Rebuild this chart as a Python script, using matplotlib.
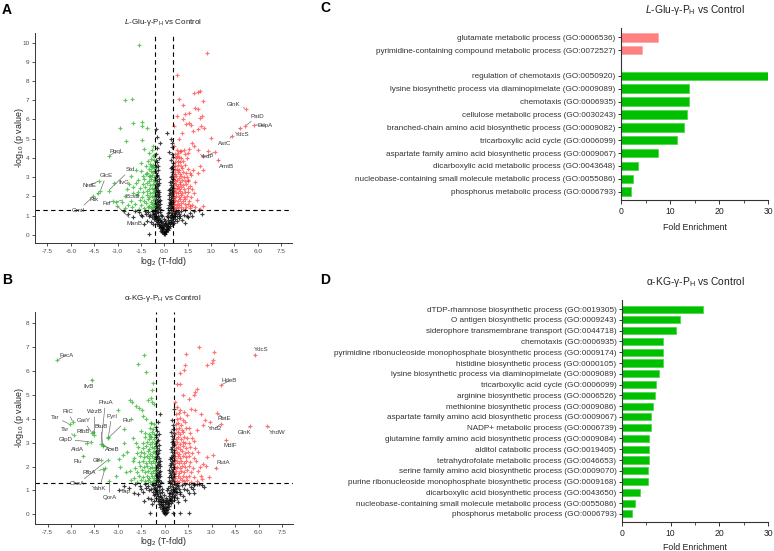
import matplotlib
matplotlib.use('Agg')
import matplotlib.pyplot as plt
import numpy as np

plt.rcParams['font.family'] = ['Liberation Sans', 'DejaVu Sans']
plt.rcParams['mathtext.fontset'] = 'custom'
plt.rcParams['mathtext.rm'] = 'Liberation Sans'
plt.rcParams['mathtext.it'] = 'Liberation Sans:italic'
plt.rcParams['mathtext.bf'] = 'Liberation Sans:bold'

# ---------------- Volcano A data (log2 fold, -log10 p) ----------------
A_NS = [(0.00,0.02),(-0.05,0.08),(0.06,0.06),(-0.12,0.15),(0.13,0.12),(0.02,0.18),(-0.2,0.22),(0.21,0.25),(-0.08,0.28),(0.09,0.3),
(-0.28,0.33),(0.3,0.36),(-0.17,0.4),(0.18,0.42),(-0.36,0.45),(0.38,0.47),(0.0,0.44),(-0.26,0.52),(0.27,0.55),(-0.45,0.55),
(0.47,0.58),(-0.1,0.6),(0.11,0.62),(-0.38,0.66),(0.4,0.68),(-0.55,0.7),(0.56,0.72),(-0.22,0.73),(0.24,0.76),(-0.66,0.8),
(0.67,0.82),(-0.47,0.84),(0.49,0.86),(-0.32,0.88),(0.34,0.9),(-0.78,0.92),(0.8,0.95),(-0.58,0.97),(0.6,0.99),(-0.4,1.0),
(0.42,1.03),(-0.9,1.05),(0.93,1.07),(-0.7,1.1),(0.72,1.12),(-0.5,1.13),(0.52,1.15),(-0.3,1.17),(0.32,1.19),(-1.05,1.2),
(1.08,1.21),(-0.62,1.23),(0.64,1.25),(-0.44,1.27),(0.46,1.28),(-0.82,1.26),(0.85,1.18),(-1.2,1.1),(1.25,1.05),(-1.4,0.95),
(1.45,1.0),(-1.6,1.2),(1.65,1.15),(-1.9,1.25),(1.9,1.22),(-2.3,1.1),(2.2,1.28),(-1.1,0.7),(1.15,0.75),(-1.3,0.55),(1.3,0.6),
(-0.97,0.04),(-0.15,0.95),(0.15,1.0),(-0.05,0.8),(0.05,0.7),
(-0.1,0.35),(0.1,0.5),(-0.2,0.65),(0.25,0.9),(-0.3,0.75),(0.35,0.6),(-0.4,1.2),(0.5,1.05),(-0.55,1.0),(0.7,0.95),
(-0.6,0.85),(0.62,0.6),(-0.7,0.55),(0.8,0.7),(-0.85,0.65),(0.95,0.85),(-1.0,1.0),(1.0,0.95),
(-0.04,0.12),(0.08,0.2),(-0.14,0.26),(0.16,0.32),(-0.24,0.42),(0.22,0.48),(-0.32,0.58),(0.31,0.64),(-0.42,0.76),(0.44,0.78),
(-0.5,0.92),(0.54,0.94),(-0.64,1.06),(0.66,1.08),(-0.74,1.22),(0.76,1.24),(-0.2,1.05),(0.22,1.12),(-0.12,0.5),(0.04,0.58),
(-1.25,1.25),(1.35,1.27),(-1.5,1.05),(1.55,0.9),(-2.0,0.9),(2.4,1.1),(-2.6,1.25),(1.8,1.0),
(-0.56,1.35),(-0.45,1.38),(-0.34,1.42),(-0.25,1.36),(0.26,1.4),(0.36,1.37),(0.47,1.43),(0.56,1.39),
(-0.52,1.52),(-0.41,1.57),(-0.3,1.6),(0.3,1.55),(0.41,1.58),(0.52,1.5),(-0.57,1.66),(0.57,1.68),
(-0.48,1.74),(-0.37,1.78),(0.35,1.72),(0.46,1.8),(-0.55,1.86),(0.55,1.9),(-0.43,1.95),(0.42,1.98),
(-0.32,2.02),(0.33,2.05),(-0.52,2.08),(0.52,2.1),(-0.46,2.2),(0.47,2.22),(-0.56,2.3),(0.57,2.28),
(-0.38,2.35),(0.39,2.38),(-0.5,2.45),(0.5,2.5),(-0.42,2.58),(0.44,2.6),(-0.56,2.66),(0.56,2.7),
(-0.47,2.78),(0.48,2.8),(-0.35,2.88),(0.53,2.92),(-0.53,2.98),(0.43,3.02),(-0.44,3.1),(0.55,3.15),
(-0.55,3.22),(0.47,3.28),(-0.4,3.35),(0.57,3.4),(-0.5,3.5),(0.5,3.55),(-0.57,3.65),(0.55,3.72),
(-0.45,3.8),(0.45,3.9),(-0.35,4.0),(0.56,4.05),(-0.52,4.2),(0.3,4.3),(-0.47,4.5),(0.5,4.55),
(-0.25,4.75),(0.52,4.8),(-0.44,5.1),(0.2,5.3),(-0.5,5.5),(0.4,5.0),
(-0.58,1.45),(-0.5,1.62),(-0.4,1.7),(-0.28,1.82),(0.28,1.85),(0.38,1.65),(0.5,1.75),(0.58,1.62),(-0.58,2.0),(-0.4,2.12),
(0.38,2.15),(0.58,2.0),(-0.33,2.25),(0.32,2.32),(-0.58,2.4),(0.58,2.45),(-0.48,2.52),(0.48,2.35),(-0.35,2.7),(0.38,2.75),
(-0.58,2.85),(0.58,2.88),(-0.48,3.05),(0.5,3.08),(-0.58,3.3),(0.42,3.45),(-0.38,3.6),(0.57,3.6),(-0.5,3.9),(0.48,4.2)]

A_DOWN = [(-1.65,9.88),(-2.5,7.0),(-2.08,7.08),(-2.01,5.79),(-1.41,5.88),(-1.09,5.58),(-2.48,4.9),(-1.44,4.95),(-1.42,5.68),
(-1.32,4.47),(-0.66,4.14),(-1.04,3.82),(-0.87,3.56),(-1.52,3.74),(-1.8,3.39),(-2.12,3.04),(-1.37,3.04),(-0.94,3.04),
(-2.86,5.57),(-0.75,4.6),
(-0.62,1.36),(-0.74,1.42),(-0.88,1.38),(-1.05,1.45),(-1.3,1.4),(-1.65,1.35),(-2.05,1.44),(-2.5,1.38),
(-0.66,1.55),(-0.8,1.6),(-0.97,1.52),(-1.18,1.63),(-1.48,1.57),(-1.88,1.62),(-2.35,1.55),
(-0.6,1.75),(-0.72,1.82),(-0.87,1.72),(-1.04,1.85),(-1.27,1.78),(-1.58,1.8),(-2.15,1.76),(-2.7,1.7),
(-0.65,1.95),(-0.79,2.02),(-0.95,1.98),(-1.14,2.06),(-1.42,1.95),(-1.78,2.05),(-2.55,2.0),
(-0.62,2.18),(-0.75,2.25),(-0.9,2.15),(-1.09,2.28),(-1.34,2.2),(-1.68,2.24),(-2.0,2.15),
(-0.66,2.4),(-0.8,2.45),(-0.98,2.36),(-1.22,2.48),(-1.58,2.42),(-1.98,2.5),(-2.4,2.38),
(-0.62,2.6),(-0.74,2.65),(-0.9,2.58),(-1.1,2.68),(-1.38,2.62),(-1.82,2.7),(-2.28,2.62),
(-0.68,2.82),(-0.83,2.88),(-1.0,2.8),(-1.28,2.92),(-1.66,2.85),
(-0.64,3.02),(-0.78,3.1),(-0.95,3.05),(-1.2,3.15),
(-0.7,3.25),(-0.88,3.3),(-1.1,3.22),(-1.5,3.3),
(-0.66,3.45),(-0.8,3.5),(-1.0,3.42),
(-0.72,3.65),(-0.92,3.7),(-1.2,3.6),
(-0.68,3.88),(-0.85,3.95),(-0.7,4.12),(-0.96,4.25),(-0.8,4.4)]

A_UP = [(2.75,9.44),(0.82,8.33),(0.97,7.08),(2.30,7.46),(2.15,7.43),(1.94,7.36),(1.18,6.73),(2.0,6.6),(2.15,6.52),(2.47,6.96),
(1.57,6.35),(1.33,6.26),(0.80,6.17),(2.28,6.09),(2.41,6.17),(0.65,5.65),(1.18,6.0),(1.40,5.74),(1.61,5.83),(1.72,5.69),
(2.37,5.65),(2.19,5.48),(2.54,5.57),(2.97,5.04),(1.83,5.39),(1.14,5.30),(0.97,4.96),(1.81,4.78),(1.89,4.61),(1.29,4.43),
(1.08,4.35),(0.65,4.61),(0.82,4.09),(1.51,4.26),(2.19,4.43),(2.47,4.09),(2.80,4.35),(2.32,3.57),(2.47,3.39),(2.15,3.22),
(1.83,3.39),(1.72,3.13),(1.5,2.87),(1.68,1.48),(2.5,1.5),
(0.62,1.36),(0.75,1.42),(0.9,1.38),(1.05,1.45),(1.2,1.35),(1.4,1.43),(1.65,1.38),(2.0,1.45),(2.3,1.36),
(0.65,1.56),(0.8,1.62),(0.95,1.55),(1.1,1.65),(1.3,1.58),(1.5,1.6),(1.8,1.55),
(0.6,1.76),(0.72,1.82),(0.88,1.74),(1.02,1.85),(1.18,1.78),(1.35,1.84),(1.6,1.76),(2.1,1.8),
(0.64,1.96),(0.78,2.02),(0.92,1.98),(1.08,2.05),(1.25,1.95),(1.45,2.04),(1.7,1.98),
(0.62,2.16),(0.74,2.24),(0.86,2.18),(1.0,2.26),(1.15,2.15),(1.32,2.22),(1.55,2.2),(1.9,2.16),
(0.66,2.38),(0.8,2.44),(0.95,2.36),(1.1,2.46),(1.28,2.4),(1.5,2.42),(1.75,2.38),
(0.63,2.58),(0.76,2.64),(0.9,2.56),(1.04,2.66),(1.2,2.6),(1.4,2.62),(1.62,2.56),
(0.68,2.78),(0.82,2.84),(0.98,2.76),(1.12,2.86),(1.3,2.8),(1.55,2.82),(2.0,2.75),
(0.64,2.98),(0.78,3.04),(0.94,2.96),(1.1,3.06),(1.25,3.0),(1.45,3.02),
(0.7,3.18),(0.85,3.24),(1.0,3.16),(1.18,3.26),(1.4,3.2),(1.65,3.22),
(0.66,3.38),(0.8,3.44),(0.96,3.36),(1.15,3.46),(1.5,3.4),
(0.72,3.58),(0.9,3.64),(1.05,3.56),(1.3,3.62),
(0.68,3.78),(0.85,3.84),(1.0,3.76),(1.22,3.86),
(0.75,4.0),(0.92,4.06),(1.1,3.98),(1.45,4.02),
(0.7,4.2),(0.88,4.26),(1.3,4.18),(0.8,4.42),(1.0,4.38),(1.6,4.45)]

# labelled proteins: name, x, y, label x, label y
A_LABELS = [("GlnK", 5.25, 6.56, 4.45, 6.8), ("PatD", 5.2, 5.65, 6.0, 6.18), ("DdpA", 5.79, 5.72, 6.45, 5.69),
            ("YdcS", 4.84, 5.53, 5.0, 5.22), ("AstC", 4.37, 5.15, 3.9, 4.75), ("YedP", 3.23, 4.31, 2.72, 4.09),
            ("AmtB", 3.48, 3.88, 3.97, 3.57), ("PqqL", -3.55, 4.1, -3.05, 4.35), ("GlcE", -4.1, 2.3, -3.73, 3.09),
            ("NrdE", -4.2, 2.8, -4.81, 2.56), ("Std", -3.58, 2.3, -2.18, 3.39), ("IlvG", -3.25, 2.7, -2.62, 2.72),
            ("Rtk", -4.25, 2.15, -4.48, 1.83), ("Gmtl", -4.55, 2.0, -5.52, 1.27), ("Fcl", -3.3, 1.76, -3.69, 1.62),
            ("BcsB", -3.13, 1.7, -2.05, 1.97), ("ManB", -3.05, 1.52, -1.9, 0.61)]

# ---------------- Volcano B data ----------------
B_NS = [(0.0,0.02),(-0.05,0.07),(0.06,0.05),(-0.12,0.14),(0.13,0.11),(0.02,0.17),(-0.2,0.22),(0.21,0.24),(-0.08,0.27),(0.09,0.3),
(-0.28,0.33),(0.3,0.35),(-0.17,0.4),(0.18,0.42),(-0.36,0.45),(0.38,0.47),(0.0,0.44),(-0.26,0.52),(0.27,0.55),(-0.45,0.55),
(0.47,0.58),(-0.1,0.6),(0.11,0.62),(-0.38,0.66),(0.4,0.68),(-0.55,0.7),(0.56,0.72),(-0.22,0.73),(0.24,0.76),(-0.66,0.8),
(0.67,0.82),(-0.47,0.84),(0.49,0.86),(-0.32,0.88),(0.34,0.9),(-0.78,0.92),(0.8,0.95),(-0.58,0.97),(0.6,0.99),(-0.4,1.0),
(0.42,1.03),(-0.9,1.05),(0.93,1.07),(-0.7,1.1),(0.72,1.12),(-0.5,1.13),(0.52,1.15),(-0.3,1.17),(0.32,1.19),(-1.05,1.2),
(1.08,1.21),(-0.62,1.23),(0.64,1.25),(-0.44,1.27),(0.46,1.28),(-0.82,1.26),(0.85,1.18),(-1.2,1.1),(1.25,1.05),(-1.4,0.95),
(1.45,1.0),(-1.6,1.2),(1.65,1.15),(-1.9,1.25),(1.9,1.22),(-2.3,1.1),(2.2,1.28),(-1.1,0.7),(1.15,0.75),(-1.3,0.55),(1.3,0.6),
(-0.15,0.95),(0.15,1.0),(-0.05,0.8),(0.05,0.7),(-0.97,0.07),(0.55,0.07),(0.97,0.07),(1.56,0.07),
(1.3,1.25),(1.55,1.27),(1.85,1.26),(2.05,1.27),(2.4,1.24),(1.8,1.05),(2.5,1.15),(-2.6,1.2),(-1.7,0.85),(1.9,0.9),
(-0.8,0.45),(0.85,0.5),(-0.1,0.35),(0.1,0.5),(-0.2,0.65),(0.25,0.9),(-0.3,0.75),(0.35,0.6),(-0.4,1.2),(0.5,1.05),
(-0.55,1.0),(0.7,0.95),(-0.6,0.85),(0.62,0.6),(-0.7,0.55),(0.8,0.7),(-0.85,0.65),(0.95,0.85),(-1.0,1.0),(1.0,0.95),
(-0.04,0.12),(0.08,0.2),(-0.14,0.26),(0.16,0.32),(-0.24,0.42),(0.22,0.48),(-0.32,0.58),(0.31,0.64),(-0.42,0.76),(0.44,0.78),
(-0.5,0.92),(0.54,0.94),(-0.64,1.06),(0.66,1.08),(-0.74,1.22),(0.76,1.24),(-0.2,1.05),(0.22,1.12),(-0.12,0.5),(0.04,0.58),
(-1.25,1.25),(-1.5,1.05),(1.55,0.9),(-2.0,0.9),
(-0.56,1.35),(-0.45,1.38),(-0.34,1.42),(-0.25,1.36),(0.26,1.4),(0.36,1.37),(0.47,1.43),(0.56,1.39),
(-0.52,1.52),(-0.41,1.57),(-0.3,1.6),(0.3,1.55),(0.41,1.58),(0.52,1.5),(-0.57,1.66),(0.57,1.68),
(-0.48,1.74),(-0.37,1.78),(0.35,1.72),(0.46,1.8),(-0.55,1.86),(0.55,1.9),(-0.43,1.95),(0.42,1.98),
(-0.32,2.02),(0.33,2.05),(-0.52,2.08),(0.52,2.1),(-0.46,2.2),(0.47,2.22),(-0.56,2.3),(0.57,2.28),
(-0.38,2.35),(0.39,2.38),(-0.5,2.45),(0.5,2.5),(-0.42,2.58),(0.44,2.6),(-0.56,2.66),(0.56,2.7),
(-0.47,2.78),(0.48,2.8),(-0.35,2.88),(0.53,2.92),(-0.53,2.98),(0.43,3.02),(-0.44,3.1),(0.55,3.15),
(-0.55,3.22),(0.47,3.28),(-0.4,3.35),(0.57,3.4),(-0.5,3.5),(0.5,3.55),(-0.57,3.65),(0.55,3.72),
(-0.45,3.85),(0.45,3.95),(-0.3,4.2),(0.56,4.4),
(-0.58,1.45),(-0.5,1.62),(-0.4,1.7),(-0.28,1.82),(0.28,1.85),(0.38,1.65),(0.5,1.75),(0.58,1.62),(-0.58,2.0),(-0.4,2.12),
(0.38,2.15),(0.58,2.0),(-0.33,2.25),(0.32,2.32),(-0.58,2.4),(0.58,2.45),(-0.48,2.52),(0.48,2.35),(-0.35,2.7),(0.38,2.75),
(-0.58,2.85),(0.58,2.88),(-0.48,3.05),(0.5,3.08),(-0.58,3.3),(0.42,3.45)]

B_DOWN = [(-1.33,6.65),(-1.71,6.27),(-1.18,5.95),(-0.8,5.19),(-0.75,5.47),(-2.22,4.77),(-1.85,4.52),(-1.64,4.43),(-1.06,4.77),
(-0.82,4.7),(-1.39,4.11),(-1.18,3.97),(-0.91,3.83),(-2.16,3.97),(-2.58,3.55),(-1.54,3.48),(-1.29,3.41),(-0.97,3.27),
(-2.05,3.2),(-1.85,2.99),(-2.85,2.0),(-2.5,1.75),(-2.7,2.5),(-2.9,2.3),(-3.1,1.6),(-2.6,3.0),(-2.4,2.6),(-0.9,4.84),
(-0.7,4.63),(-2.07,4.7),(-1.44,4.35),(-3.02,4.35),
(-0.62,1.34),(-0.76,1.4),(-0.92,1.36),(-1.08,1.44),(-1.28,1.38),(-1.5,1.42),(-1.8,1.36),(-2.15,1.44),
(-0.66,1.54),(-0.82,1.6),(-0.98,1.52),(-1.16,1.62),(-1.38,1.56),(-1.65,1.6),(-2.0,1.54),
(-0.61,1.74),(-0.74,1.8),(-0.9,1.72),(-1.06,1.82),(-1.24,1.76),(-1.46,1.84),(-1.75,1.75),(-2.2,1.8),
(-0.65,1.94),(-0.8,2.0),(-0.95,1.92),(-1.12,2.04),(-1.32,1.96),(-1.56,2.02),(-1.9,1.94),
(-0.63,2.14),(-0.76,2.22),(-0.9,2.16),(-1.04,2.24),(-1.2,2.14),(-1.4,2.22),(-1.66,2.18),(-2.05,2.25),
(-0.67,2.36),(-0.82,2.42),(-0.98,2.34),(-1.15,2.44),(-1.36,2.38),(-1.6,2.42),(-1.95,2.36),
(-0.64,2.56),(-0.78,2.62),(-0.94,2.54),(-1.1,2.64),(-1.3,2.58),(-1.52,2.6),(-1.8,2.55),
(-0.69,2.76),(-0.84,2.82),(-1.0,2.74),(-1.2,2.84),(-1.42,2.78),(-1.7,2.8),
(-0.65,2.96),(-0.8,3.02),(-0.96,2.94),(-1.16,3.04),(-1.4,2.98),
(-0.71,3.16),(-0.86,3.22),(-1.04,3.14),(-1.25,3.24),
(-0.67,3.36),(-0.84,3.42),(-1.0,3.34),(-0.73,3.56),(-0.92,3.62),(-0.69,3.76),(-0.88,3.82)]

B_UP = [(2.22,6.97),(3.17,6.79),(3.09,6.44),(3.0,6.33),(2.73,6.23),(1.37,6.69),(1.27,6.23),(1.2,6.02),(0.95,5.91),(0.78,5.46),
(0.99,5.43),(2.09,5.25),(1.94,5.11),(1.88,5.0),(1.56,4.8),(1.16,4.98),(0.68,4.7),(0.78,4.49),(0.99,4.35),(1.24,4.28),
(1.67,4.42),(1.94,4.35),(2.32,4.21),(2.57,3.94),(2.89,3.87),(2.43,3.73),(2.05,3.52),(1.52,3.59),(3.06,2.47),(2.72,2.40),
(2.47,2.12),(2.83,1.56),(2.64,2.01),
(0.62,1.34),(0.76,1.4),(0.92,1.36),(1.08,1.44),(1.25,1.38),(1.45,1.42),(1.7,1.35),(2.05,1.4),(2.4,1.46),
(0.66,1.54),(0.82,1.6),(0.98,1.52),(1.15,1.62),(1.35,1.56),(1.58,1.6),(1.9,1.55),(2.3,1.62),
(0.61,1.74),(0.74,1.8),(0.9,1.72),(1.06,1.82),(1.22,1.76),(1.42,1.84),(1.68,1.75),(2.15,1.8),
(0.65,1.94),(0.8,2.0),(0.95,1.92),(1.12,2.04),(1.3,1.96),(1.52,2.02),(1.8,1.94),(2.25,2.0),
(0.63,2.14),(0.76,2.22),(0.9,2.16),(1.04,2.24),(1.2,2.14),(1.38,2.22),(1.62,2.18),(1.98,2.25),
(0.67,2.36),(0.82,2.42),(0.98,2.34),(1.15,2.44),(1.34,2.38),(1.56,2.42),(1.85,2.36),
(0.64,2.56),(0.78,2.62),(0.94,2.54),(1.1,2.64),(1.28,2.58),(1.48,2.6),(1.72,2.55),(2.1,2.62),
(0.69,2.76),(0.84,2.82),(1.0,2.74),(1.18,2.84),(1.38,2.78),(1.62,2.8),(1.95,2.76),
(0.65,2.96),(0.8,3.02),(0.96,2.94),(1.14,3.04),(1.32,2.98),(1.55,3.0),(1.85,3.05),
(0.71,3.16),(0.86,3.22),(1.02,3.14),(1.22,3.24),(1.45,3.18),(1.72,3.2),
(0.67,3.36),(0.82,3.42),(0.98,3.34),(1.18,3.44),(1.6,3.38),
(0.73,3.56),(0.92,3.62),(1.1,3.54),(1.35,3.6),
(0.69,3.76),(0.86,3.82),(1.04,3.74),(1.28,3.84),
(0.76,3.98),(0.95,4.04),(1.15,3.96),(0.72,4.18),(0.9,4.24),(1.4,4.16)]

B_LABELS = [("FecA", -6.87, 6.44, -6.3, 6.65), ("IlvB", -4.67, 5.63, -4.88, 5.36), ("YdcS", 5.75, 6.65, 6.17, 6.89),
            ("HdeB", 3.59, 5.40, 4.1, 5.57), ("RutE", 3.36, 4.22, 3.78, 4.01), ("Yhd2", 3.57, 3.77, 3.21, 3.59),
            ("GlnK", 5.47, 3.71, 5.11, 3.41), ("YhdW", 6.55, 3.69, 7.22, 3.41), ("MdlF", 3.91, 3.1, 4.2, 2.87),
            ("RutA", 3.25, 1.92, 3.74, 2.17), ("FliC", -5.87, 3.84, -6.19, 4.29), ("Tar", -6.08, 3.77, -6.99, 4.05),
            ("Tsr", -5.81, 3.31, -6.4, 3.55), ("GlpD", -4.75, 3.03, -6.36, 3.13), ("WzzB", -4.5, 3.31, -4.5, 4.29),
            ("GatY", -4.67, 3.41, -5.2, 3.91), ("RfbB", -4.62, 3.45, -5.24, 3.45), ("FhuA", -4.08, 2.96, -3.8, 4.66),
            ("BtuB", -3.97, 2.85, -4.08, 3.66), ("PyrI", -3.61, 3.24, -3.4, 4.1), ("Flu", -3.65, 3.17, -2.45, 3.91),
            ("AceB", -3.97, 2.89, -3.34, 2.71), ("AldA", -4.96, 2.99, -5.56, 2.71), ("Flu", -5.2, 2.43, -5.56, 2.2),
            ("Glf", -4.08, 2.27, -4.39, 2.27), ("RfbA", -3.97, 1.88, -4.82, 1.74), ("CheA", -3.66, 2.27, -5.56, 1.27),
            ("YahK", -3.82, 1.92, -4.18, 1.09), ("QorA", -3.55, 1.41, -3.51, 0.71), ("Tap", -2.92, 1.02, -2.49, 0.97)]

# ---------------- GO enrichment data ----------------
C_UP_TERMS = ["glutamate metabolic process (GO:0006536)",
              "pyrimidine-containing compound metabolic process (GO:0072527)"]
C_UP_VALUES = [7.45, 4.35]
C_DOWN_TERMS = ["regulation of chemotaxis (GO:0050920)",
                "lysine biosynthetic process via diaminopimelate (GO:0009089)",
                "chemotaxis (GO:0006935)",
                "cellulose metabolic process (GO:0030243)",
                "branched-chain amino acid biosynthetic process (GO:0009082)",
                "tricarboxylic acid cycle (GO:0006099)",
                "aspartate family amino acid biosynthetic process (GO:0009067)",
                "dicarboxylic acid metabolic process (GO:0043648)",
                "nucleobase-containing small molecule metabolic process (GO:0055086)",
                "phosphorus metabolic process (GO:0006793)"]
C_DOWN_VALUES = [30.0, 13.9, 13.9, 13.4, 12.8, 11.4, 7.5, 3.4, 2.4, 2.0]

D_TERMS = ["dTDP-rhamnose biosynthetic process (GO:0019305)",
           "O antigen biosynthetic process (GO:0009243)",
           "siderophore transmembrane transport (GO:0044718)",
           "chemotaxis (GO:0006935)",
           "pyrimidine ribonucleoside monophosphate biosynthetic process (GO:0009174)",
           "histidine biosynthetic process (GO:0000105)",
           "lysine biosynthetic process via diaminopimelate (GO:0009089)",
           "tricarboxylic acid cycle (GO:0006099)",
           "arginine biosynthetic process (GO:0006526)",
           "methionine biosynthetic process (GO:0009086)",
           "aspartate family amino acid biosynthetic process (GO:0009067)",
           "NADP+ metabolic process (GO:0006739)",
           "glutamine family amino acid biosynthetic process (GO:0009084)",
           "alditol catabolic process (GO:0019405)",
           "tetrahydrofolate metabolic process (GO:0046653)",
           "serine family amino acid biosynthetic process (GO:0009070)",
           "purine ribonucleoside monophosphate biosynthetic process (GO:0009168)",
           "dicarboxylic acid biosynthetic process (GO:0043650)",
           "nucleobase-containing small molecule metabolic process (GO:0055086)",
           "phosphorus metabolic process (GO:0006793)"]
D_VALUES = [16.7, 11.9, 11.1, 8.4, 8.4, 8.4, 7.7, 6.9, 6.7, 6.3, 6.05, 5.9, 5.65, 5.65, 5.65, 5.4, 5.4, 3.75, 2.65, 2.1]

TITLE_L = r'$\it{L}$-Glu-γ-P$_{\rm H}$ vs Control'
TITLE_A = r'α-KG-γ-P$_{\rm H}$ vs Control'

FC_CUT = 0.585
P_CUT = 1.301

W, H = 774, 551
fig = plt.figure(figsize=(W / 100, H / 100), dpi=100)


def fx(px):
    return px / W


def fy(py):
    return 1 - py / H


def volcano(rect, ns, down, up, labels, ylim, yticks):
    ax = fig.add_axes(rect)
    pts = np.array(ns + down + up + [(l[1], l[2]) for l in labels])
    x, y = pts[:, 0], pts[:, 1]
    is_up = (x > FC_CUT) & (y > P_CUT)
    is_dn = (x < -FC_CUT) & (y > P_CUT)
    is_ns = ~(is_up | is_dn)
    kw = dict(marker='+', s=12, linewidths=0.85)
    ax.scatter(x[is_ns], y[is_ns], c='black', alpha=0.75, **kw)
    ax.scatter(x[is_dn], y[is_dn], c='#2DB52D', alpha=0.75, **kw)
    ax.scatter(x[is_up], y[is_up], c='#FF2A2A', alpha=0.65, **kw)
    ls = (0, (4, 3))
    ax.axvline(-FC_CUT, color='black', lw=0.8, ls=ls)
    ax.axvline(FC_CUT, color='black', lw=0.8, ls=ls)
    ax.axhline(P_CUT, color='black', lw=0.8, ls=ls)
    for name, px_, py_, tx, ty in labels:
        ax.annotate(name, xy=(px_, py_), xytext=(tx, ty), fontsize=4.4, color='#3a3a3a',
                    ha='center', va='center',
                    arrowprops=dict(arrowstyle='-', color='#707070', lw=0.5, shrinkA=0, shrinkB=1))
    ax.set_xlim(-8.3, 8.2)
    ax.set_ylim(*ylim)
    xt = [-7.5, -6.0, -4.5, -3.0, -1.5, 0.0, 1.5, 3.0, 4.5, 6.0, 7.5]
    ax.set_xticks(xt)
    ax.set_xticklabels([f'{v:.1f}' for v in xt])
    ax.set_yticks(yticks)
    for s in ['top', 'right']:
        ax.spines[s].set_visible(False)
    for s in ['left', 'bottom']:
        ax.spines[s].set_color('#333333')
        ax.spines[s].set_linewidth(0.7)
    ax.tick_params(labelsize=4.6, colors='#333333', labelcolor='#4d4d4d', length=2.5, width=0.6, pad=1.5)
    return ax


# Panel A
volcano([fx(35), fy(243), fx(257), (243 - 33) / H], A_NS, A_DOWN, A_UP, A_LABELS, (-0.43, 10.5), list(range(0, 11)))
fig.text(fx(163), fy(22), TITLE_L, fontsize=5.8, ha='center', va='center', color='#222222')
fig.text(fx(19), fy(138), r'-log$_{10}$ (p value)', fontsize=6.4, rotation=90, ha='center', va='center', color='#222222')
fig.text(fx(163), fy(262), r'log$_2$ (T-fold)', fontsize=6.2, ha='center', va='center', color='#222222')

# Panel B
volcano([fx(35), fy(524), fx(258), (524 - 312) / H], B_NS, B_DOWN, B_UP, B_LABELS, (-0.4, 8.45), list(range(0, 9)))
fig.text(fx(163), fy(299), TITLE_A, fontsize=5.8, ha='center', va='center', color='#222222')
fig.text(fx(19), fy(418), r'-log$_{10}$ (p value)', fontsize=6.4, rotation=90, ha='center', va='center', color='#222222')
fig.text(fx(163), fy(542), r'log$_2$ (T-fold)', fontsize=6.2, ha='center', va='center', color='#222222')


def bars(rect, up_terms, up_vals, dn_terms, dn_vals, ylim):
    ax = fig.add_axes(rect)
    pos_up = list(range(len(up_terms)))
    gap = 1 if up_terms else 0
    pos_dn = [len(up_terms) + gap + i for i in range(len(dn_terms))]
    if up_terms:
        ax.barh(pos_up, up_vals, height=0.66, color='#FF8080', edgecolor='#FFA8A8', linewidth=0.6)
    ax.barh(pos_dn, dn_vals, height=0.66, color='#00C000', edgecolor='#50D850', linewidth=0.6)
    ax.set_yticks(pos_up + pos_dn)
    ax.set_yticklabels(up_terms + dn_terms, fontsize=5.9, color='#222222')
    ax.set_ylim(*ylim)
    ax.set_xlim(0, 30)
    ax.set_xticks([0, 10, 20, 30])
    ax.set_xticks([5, 15, 25], minor=True)
    ax.tick_params(axis='x', labelsize=6.2, colors='#333333', labelcolor='#222222', length=3, width=0.7, pad=2)
    ax.tick_params(axis='x', which='minor', length=2, width=0.6, colors='#333333')
    ax.tick_params(axis='y', length=2.5, width=0.7, colors='#333333', pad=1.5)
    for s in ['top', 'right']:
        ax.spines[s].set_visible(False)
    for s in ['left', 'bottom']:
        ax.spines[s].set_color('#333333')
        ax.spines[s].set_linewidth(0.8)
    return ax


# Panel C
bars([fx(621), fy(200), fx(147), 172 / H], C_UP_TERMS, C_UP_VALUES, C_DOWN_TERMS, C_DOWN_VALUES, (12.65, -0.72))
fig.text(fx(695), fy(10), TITLE_L, fontsize=7.4, ha='center', va='center', color='#222222')
fig.text(fx(695), fy(227), 'Fold Enrichment', fontsize=6.3, ha='center', va='center', color='#222222')

# Panel D
bars([fx(622), fy(522), fx(146), 222 / H], [], [], D_TERMS, D_VALUES, (19.75, -0.85))
fig.text(fx(695), fy(282), TITLE_A, fontsize=7.4, ha='center', va='center', color='#222222')
fig.text(fx(695), fy(547), 'Fold Enrichment', fontsize=6.3, ha='center', va='center', color='#222222')

# Panel letters
for letter, px, py in [('A', 2, 10), ('B', 2, 280), ('C', 320, 8), ('D', 320, 280)]:
    fig.text(fx(px), fy(py), letter, fontsize=10, fontweight='bold', ha='left', va='center')

fig.savefig('out.png', dpi=100)
